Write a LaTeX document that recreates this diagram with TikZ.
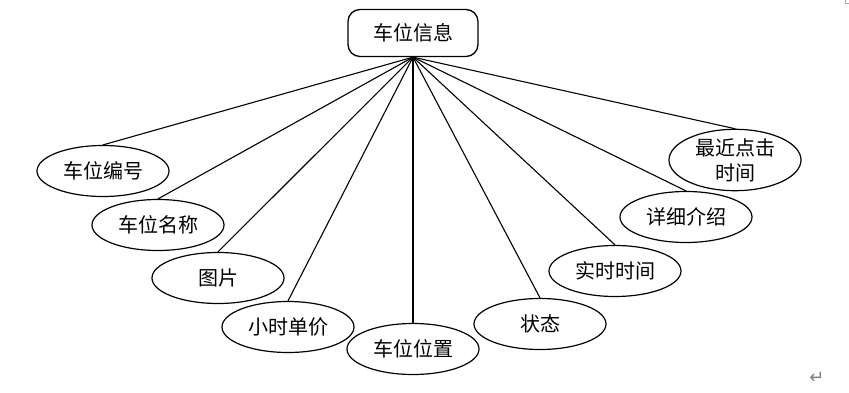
\documentclass[tikz,border=0pt]{standalone}
\usepackage{fontspec}
\setmainfont{Noto Sans CJK SC}
\newfontfamily\symfont{DejaVu Sans}
\usetikzlibrary{shapes.geometric}
\begin{document}
\begin{tikzpicture}[x=1pt,y=-1pt,line cap=round,line join=round,
  entity/.style={draw,rounded corners=12pt,line width=1.3pt,minimum width=130pt,minimum height=47pt,inner sep=0pt},
  attr/.style={draw,ellipse,line width=1.2pt,minimum width=132pt,minimum height=51pt,inner sep=0pt,align=center},
  link/.style={line width=1.1pt}]
  \useasboundingbox (0,0) rectangle (849,393);
  \fontsize{20}{25}\selectfont
  \node[entity] (info) at (413,33) {车位信息};
  \node[attr] (num)   at (103,171) {车位编号};
  \node[attr] (name)  at (158,225) {车位名称};
  \node[attr] (pic)   at (218,278) {图片};
  \node[attr] (price) at (288,327) {小时单价};
  \node[attr] (pos)   at (413,349) {车位位置};
  \node[attr] (state) at (540,324) {状态};
  \node[attr] (rtime) at (615,271) {实时时间};
  \node[attr] (desc)  at (686,217) {详细介绍};
  \node[attr] (click) at (735,160) {最近点击\\时间};
  \foreach \n in {num,name,pic,price,pos,state,rtime,desc,click}
    \draw[link] (info.south) -- (\n.north);
  % page marks
  \draw[gray!70,line width=.8pt] (845.5,0) -- (845.5,3.5) -- (849,3.5);
  \node[gray,inner sep=0pt] (ret) at (817,378) {\symfont\fontsize{18}{18}\selectfont ↵};
\end{tikzpicture}
\end{document}
